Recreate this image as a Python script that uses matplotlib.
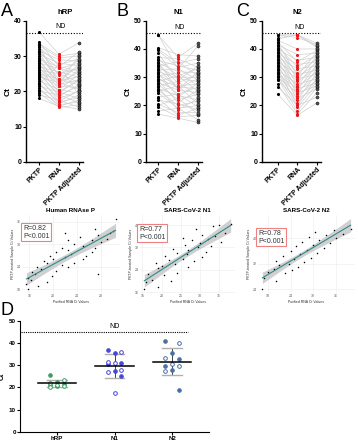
import matplotlib
matplotlib.use("Agg")
import matplotlib.pyplot as plt
from matplotlib.ticker import MaxNLocator
import numpy as np

plt.rcParams['font.family'] = ['Liberation Sans', 'DejaVu Sans']

# paired Ct values (PKTP, purified RNA, PKTP adjusted)
pktp_hrp = [18.0, 19.0, 19.5, 20.0, 20.5, 21.0, 21.5, 22.0, 22.0, 22.5, 23.0, 23.5, 24.0, 24.0,
            24.5, 25.0, 25.0, 25.5, 26.0, 26.0, 26.5, 27.0, 27.0, 27.5, 28.0, 28.0, 28.5, 29.0,
            29.0, 29.5, 30.0, 30.5, 31.0, 31.0, 31.5, 32.0, 32.5, 33.0, 33.0, 33.5, 34.0, 36.8]
rna_hrp = [15.8, 17.5, 15.5, 19.0, 16.2, 15.8, 19.8, 17.0, 27.5, 16.5, 20.5, 18.0, 22.5, 17.2,
           21.5, 19.0, 23.5, 18.5, 25.0, 20.0, 22.0, 19.5, 25.5, 23.0, 20.5, 26.5, 22.5, 27.0,
           21.5, 25.0, 23.5, 28.0, 22.5, 26.5, 29.0, 24.5, 27.5, 29.5, 22.0, 30.0, 27.0, 30.5]
adj_hrp = [15.0, 15.5, 16.2, 16.8, 17.0, 17.5, 18.0, 18.2, 18.8, 19.0, 19.5, 20.0, 20.5, 20.2,
           21.0, 21.5, 21.8, 22.0, 22.5, 23.0, 23.2, 23.5, 24.0, 24.2, 24.8, 25.0, 25.5, 25.8,
           26.2, 26.5, 27.0, 27.2, 27.8, 28.0, 28.5, 29.0, 29.2, 30.0, 30.2, 30.8, 31.2, 33.8]

pktp_n1 = [17.0, 18.0, 19.5, 20.0, 20.5, 22.0, 22.5, 23.0, 24.5, 25.0, 25.5, 26.0, 26.5, 27.0,
           27.5, 28.0, 28.5, 29.0, 29.5, 30.0, 30.5, 31.0, 31.5, 32.0, 32.5, 33.0, 33.5, 34.0,
           34.5, 35.0, 35.5, 36.0, 36.5, 37.0, 38.5, 39.5, 40.0, 40.5, 45.0, 45.0]
rna_n1 = [15.5, 19.0, 16.0, 22.5, 17.5, 20.5, 16.5, 24.0, 19.0, 27.0, 20.0, 23.5, 18.5, 28.5,
          22.0, 25.5, 30.5, 21.0, 26.5, 24.0, 31.5, 27.0, 23.0, 29.5, 33.0, 26.0, 30.0, 35.5,
          28.0, 32.0, 25.5, 34.0, 30.5, 36.5, 29.0, 33.5, 35.0, 38.0, 37.0, 33.0]
adj_n1 = [14.0, 15.0, 16.5, 17.0, 17.5, 18.5, 19.0, 19.5, 20.0, 20.5, 21.5, 22.0, 22.5, 23.0,
          24.0, 24.5, 25.0, 25.5, 26.0, 26.5, 27.0, 27.5, 28.0, 28.5, 29.0, 29.5, 30.0, 30.5,
          31.0, 31.5, 32.0, 32.5, 33.0, 33.5, 34.0, 35.0, 36.5, 37.5, 42.0, 41.0]

pktp_n2 = [24.0, 26.5, 27.5, 29.0, 29.5, 30.0, 30.5, 31.0, 31.5, 32.0, 32.5, 33.0, 33.5, 34.0,
           34.5, 35.0, 35.5, 36.0, 36.5, 37.0, 37.5, 38.0, 38.5, 39.0, 39.5, 40.0, 40.5, 41.0,
           41.5, 42.0, 42.5, 43.0, 43.5, 44.0, 45.0, 45.0]
rna_n2 = [16.5, 20.0, 17.0, 22.5, 18.0, 24.5, 19.5, 26.0, 21.0, 23.5, 27.5, 20.0, 25.0, 29.5,
          22.0, 26.5, 31.0, 24.0, 28.5, 33.0, 25.5, 30.0, 34.5, 27.0, 31.5, 36.0, 29.0, 33.5,
          38.0, 30.5, 35.5, 40.0, 45.0, 45.0, 45.0, 44.0]
adj_n2 = [21.0, 23.0, 24.5, 26.0, 26.5, 27.0, 27.5, 28.0, 28.5, 29.0, 29.5, 30.0, 30.5, 31.0,
          31.5, 32.0, 32.5, 33.0, 33.5, 34.0, 34.5, 35.0, 35.5, 36.0, 36.5, 37.0, 37.5, 38.0,
          38.5, 39.0, 39.5, 40.0, 40.5, 41.0, 42.0, 41.5]

paired_titles = ["hRP", "N1", "N2"]
paired_letters = ["A", "B", "C"]
paired_ymax = [40, 50, 50]
nd_levels = [36.5, 45.5, 45.5]
pair_labels = ["PKTP", "RNA", "PKTP Adjusted"]

scatter_titles = ["Human RNAse P", "SARS-CoV-2 N1", "SARS-CoV-2 N2"]
r_text = ["R=0.82", "R=0.77", "R=0.78"]

# panel D
d_groups = ["hRP", "N1", "N2"]
hrp_d = [25.5, 23.5, 22.5, 22.0, 21.5, 21.0, 21.0, 20.8, 20.5, 20.0]
n1_d = [37.0, 36.0, 35.5, 31.5, 31.0, 31.0, 30.5, 28.0, 27.5, 27.0, 25.0, 17.5]
n2_d = [41.0, 40.0, 35.5, 33.5, 33.0, 30.5, 29.5, 29.5, 28.0, 27.5, 19.0]
d_colors = ["#3f9a66", "#4646dc", "#4a6ea8"]

W, H = 358, 440
fig = plt.figure(figsize=(3.58, 4.40), dpi=100)


def rect(x0, y0, x1, y1):
    return [x0 / W, 1 - y1 / H, (x1 - x0) / W, (y1 - y0) / H]


paired = [(pktp_hrp, rna_hrp, adj_hrp), (pktp_n1, rna_n1, adj_n1), (pktp_n2, rna_n2, adj_n2)]
top_boxes = [(26, 20.7, 83, 162), (146, 20.7, 202, 162), (262, 20.7, 321, 162)]
top_xlim = [(-0.65, 2.2), (-0.6, 2.2), (-0.8, 2.2)]
letter_x = [1, 117, 236]
title_x = [65, 178, 297]

for i in range(3):
    ax = fig.add_axes(rect(*top_boxes[i]))
    a, b, c = (np.array(v) for v in paired[i])
    for k in range(len(a)):
        ax.plot([0, 1, 2], [a[k], b[k], c[k]], color="#d0d0d0", lw=0.5, zorder=1)
    ax.scatter(np.zeros(len(a)), a, s=5, color="black", zorder=3, lw=0)
    ax.scatter(np.ones(len(b)), b, s=5, color="#e8161b", zorder=3, lw=0)
    ax.scatter(np.full(len(c), 2), c, s=5, facecolor="#555555", edgecolor="black",
               lw=0.3, zorder=3)
    ax.axhline(nd_levels[i], color="black", ls=(0, (1, 1.5)), lw=0.8)
    ax.text(1.1, nd_levels[i] + 0.8, "ND", ha="center", va="bottom", fontsize=5)
    ax.set_xlim(*top_xlim[i])
    ax.set_ylim(0, paired_ymax[i])
    ax.set_yticks(range(0, paired_ymax[i] + 1, 10))
    ax.set_xticks([0, 1, 2])
    ax.set_xticklabels(pair_labels, rotation=45, ha="right", rotation_mode="anchor",
                       fontsize=5, fontweight="bold")
    ax.tick_params(labelsize=5, width=0.8, length=2, pad=1)
    for t in ax.get_yticklabels():
        t.set_fontweight("bold")
    ax.set_ylabel("Ct", fontsize=6, fontweight="bold", labelpad=2)
    ax.spines[["top", "right"]].set_visible(False)
    ax.spines[["left", "bottom"]].set_linewidth(1.0)
    fig.text(letter_x[i] / W, 1 - 3 / H, paired_letters[i], fontsize=13, va="top")
    fig.text(title_x[i] / W, 1 - 12 / H, paired_titles[i], fontsize=5.5,
             fontweight="bold", ha="center", va="center")

# correlation panels (purified RNA vs PKTP)
sc_boxes = [(22, 215, 120, 293), (140, 215, 235, 293), (258, 215, 355, 293)]
box_pos = [(23, 225), (139, 226), (258, 230)]
for i in range(3):
    ax = fig.add_axes(rect(*sc_boxes[i]))
    a, b, _ = (np.array(v) for v in paired[i])
    keep = (a < 45) & (b < 45)
    x, y = b[keep], a[keep]
    ax.scatter(x, y, s=1.2, color="black", lw=0, zorder=3)
    coef = np.polyfit(x, y, 1)
    xs = np.linspace(x.min(), x.max(), 50)
    ys = np.polyval(coef, xs)
    resid = y - np.polyval(coef, x)
    se = np.sqrt(np.sum(resid ** 2) / (len(x) - 2))
    band = 2.0 * se * np.sqrt(1 / len(x) + (xs - x.mean()) ** 2 / np.sum((x - x.mean()) ** 2))
    ax.fill_between(xs, ys - band, ys + band, color="#bdbdbd", alpha=0.7, lw=0, zorder=2)
    ax.plot(xs, ys, color="#2e8b8b", lw=0.8, zorder=4)
    ax.grid(color="#ececec", lw=0.4)
    ax.set_axisbelow(True)
    ax.xaxis.set_major_locator(MaxNLocator(5))
    ax.yaxis.set_major_locator(MaxNLocator(4))
    for s in ax.spines.values():
        s.set_visible(False)
    ax.tick_params(labelsize=2.5, length=0, pad=1, labelcolor="#555555")
    ax.set_xlabel("Purified RNA Ct Values", fontsize=2.5, labelpad=1, color="#333333")
    ax.set_ylabel("PKTP-treated Sample Ct Values", fontsize=2.5, labelpad=1, color="#333333")
    ax.set_title(scatter_titles[i], fontsize=4.5, fontweight="bold", pad=2)
    bx, by = box_pos[i]
    fig.text(bx / W, 1 - by / H, r_text[i] + "\nP<0.001", fontsize=5, va="top",
             color="#333333", linespacing=1.1,
             bbox=dict(boxstyle="square,pad=0.25", fc="white", ec="#f08080", lw=0.8))

# panel D
axd = fig.add_axes(rect(20, 321, 209, 431.7))
for i, vals in enumerate([hrp_d, n1_d, n2_d]):
    v = np.array(vals)
    idx = np.arange(len(v))
    offs = np.where(idx % 3 == 0, -0.12, np.where(idx % 3 == 1, 0.12, 0.0))
    filled = idx % 2 == 0
    axd.scatter(i + offs[filled], v[filled], s=7, color=d_colors[i], lw=0.6, zorder=3)
    axd.scatter(i + offs[~filled], v[~filled], s=7, facecolor="white",
                edgecolor=d_colors[i], lw=0.7, zorder=3)
    m, sd = v.mean(), v.std(ddof=1)
    axd.plot([i - 0.33, i + 0.33], [m, m], color="black", lw=1.1, zorder=4)
    axd.plot([i, i], [m - sd, m + sd], color="#444444", lw=0.7, zorder=2)
    for e in (m - sd, m + sd):
        axd.plot([i - 0.17, i + 0.17], [e, e], color="#b0b0b0", lw=1.0, zorder=2)
axd.plot([-0.62, 2.28], [45, 45], color="black", ls=(0, (1, 1)), lw=0.8)
axd.text(1, 46, "ND", ha="center", va="bottom", fontsize=5)
axd.set_xlim(-0.64, 2.64)
axd.set_ylim(0, 50)
axd.set_xticks([0, 1, 2])
axd.set_xticklabels(d_groups, fontsize=4.5, fontweight="bold")
axd.tick_params(labelsize=4.5, width=0.8, length=2, pad=1)
for t in axd.get_yticklabels():
    t.set_fontweight("bold")
axd.set_ylabel("Ct", fontsize=5, fontweight="bold", labelpad=2)
axd.spines[["top", "right"]].set_visible(False)
fig.text(1 / W, 1 - 302 / H, "D", fontsize=13, va="top")

fig.savefig("out.png", dpi=100)
